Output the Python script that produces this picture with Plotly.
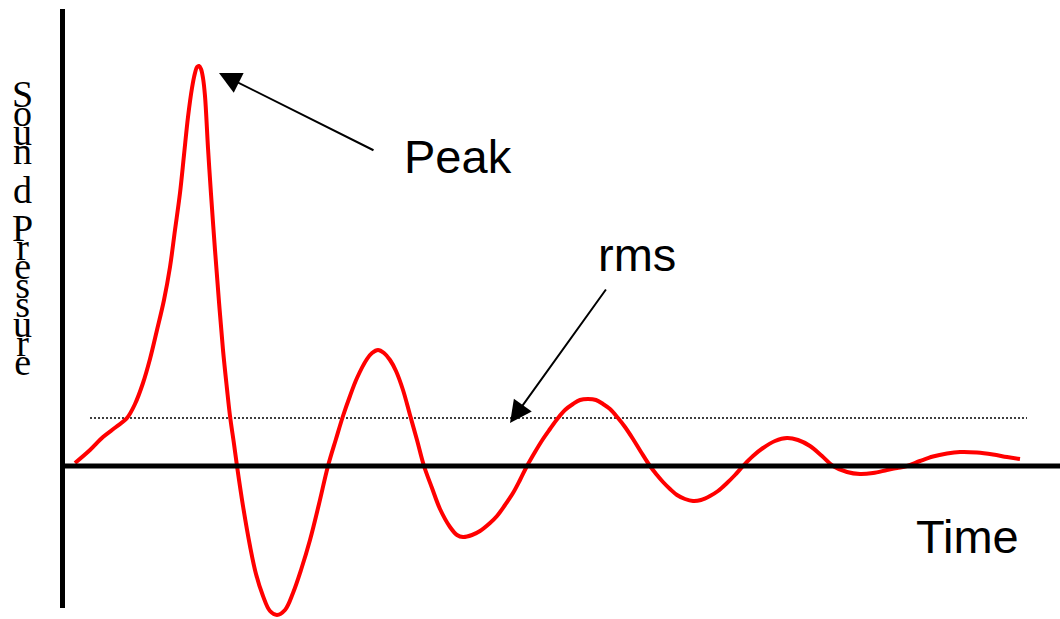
import plotly.graph_objects as go

# ---- data (x = time, y = sound pressure) ----
time_vals = [75, 90, 103, 116, 127, 135, 143, 150, 157, 164, 170, 175, 180, 184, 188, 192,
             195, 197, 199, 201, 203, 205, 208, 211, 215, 219, 223, 227, 230, 234, 237,
             243, 250, 256, 263, 270, 277, 285, 293, 301, 310, 319, 328,
             336, 343, 350, 357, 367, 372, 378, 384, 390, 396, 403, 410, 417, 424,
             432, 440, 450, 457, 463, 472, 480, 490, 497, 505, 513, 520, 527,
             535, 543, 550, 558, 565, 573, 580, 588, 596, 603, 610, 618, 625, 633, 641, 650,
             657, 663, 670, 677, 685, 693, 701, 710, 718, 727, 735, 743,
             753, 763, 775, 787, 798, 810, 822, 833,
             847, 860, 873, 887, 897, 907,
             920, 933, 947, 960, 977, 993, 1007, 1020]
pressure_vals = [3, 16, 29, 39, 48, 62, 83, 107, 136, 166, 199, 236, 273, 311, 349, 378,
                 393, 399, 400, 397, 388, 370, 318, 272, 216, 164, 116, 77, 50, 22, 0,
                 -40, -80, -108, -130, -145, -149, -144, -127, -104, -74, -38, 0,
                 27, 50, 70, 88, 107, 113, 116, 113, 106, 95, 76, 51, 26, 0,
                 -22, -43, -61, -69, -71, -69, -65, -57, -50, -39, -27, -14, 0,
                 14, 27, 37, 48, 56, 62, 66, 67, 66, 62, 57, 48, 39, 27, 14, 0,
                 -9, -16, -23, -29, -33, -35, -34, -30, -25, -17, -9, 0,
                 10, 18, 25, 28, 26, 20, 10, 0,
                 -6, -8, -7, -4, -2, 0,
                 5, 9.5, 12.5, 14, 13.5, 11.5, 9, 7]
rms_level = 48
rms_span = [90, 1027]

x_label = "Time"
y_label = "Sound Pressure"
peak_label = "Peak"
rms_label = "rms"

# ---- layout helpers (pixel-like coordinate frame) ----
W, H = 1060, 619
ZERO_PX = 466           # pixel row of the time axis
def py(v):               # pixel row -> data value
    return ZERO_PX - v

fig = go.Figure()

# rms dotted level
fig.add_trace(go.Scatter(x=rms_span, y=[rms_level, rms_level], mode="lines",
                         line=dict(color="black", width=1.5, dash="2px,2px"),
                         hoverinfo="skip", showlegend=False))

# pressure curve
fig.add_trace(go.Scatter(x=time_vals, y=pressure_vals, mode="lines",
                         line=dict(color="#ff0000", width=4, shape="spline", smoothing=1),
                         showlegend=False))

# axes drawn as thick black lines
fig.add_shape(type="line", x0=62.5, x1=62.5, y0=py(9), y1=py(608),
              line=dict(color="black", width=5), layer="below")
fig.add_shape(type="line", x0=60, x1=W, y0=0, y1=0,
              line=dict(color="black", width=5), layer="above")

annotations = []
# arrows
arrow_style = dict(axref="x", ayref="y", xref="x", yref="y", text="", showarrow=True,
                   arrowhead=2, arrowsize=2.2, arrowwidth=2, arrowcolor="black", standoff=0)
annotations.append(dict(x=219, y=py(73), ax=375, ay=py(151), **arrow_style))
annotations.append(dict(x=510, y=py(423), ax=607, ay=py(288), **arrow_style))

# texts
sans = dict(family="Liberation Sans, Arial, sans-serif", size=47, color="black")
annotations.append(dict(x=458, y=py(156), xref="x", yref="y", text=peak_label,
                        showarrow=False, font=sans))
annotations.append(dict(x=637, y=py(254), xref="x", yref="y", text=rms_label,
                        showarrow=False, font=sans))
annotations.append(dict(x=967, y=py(536), xref="x", yref="y", text=x_label,
                        showarrow=False, font=sans))

# vertical stacked y label: one glyph per line, big glyphs on tight line spacing
lines = []
for ch in y_label:
    if ch == " ":
        lines.append("")
    else:
        if ch == "d":
            lines.append("")
        lines.append('<span style="font-size:38px">%s</span>' % ch)
stacked = "<br>".join(lines)
annotations.append(dict(x=22.5, y=py(70.5), xref="x", yref="y", text=stacked,
                        showarrow=False, xanchor="center", yanchor="top", align="center",
                        font=dict(family="Liberation Serif, Times New Roman, serif",
                                  size=14.72, color="black")))

fig.update_layout(
    width=W, height=H,
    margin=dict(l=0, r=0, t=0, b=0),
    paper_bgcolor="white", plot_bgcolor="white",
    xaxis=dict(range=[0, W], visible=False, fixedrange=True),
    yaxis=dict(range=[ZERO_PX - H, ZERO_PX], visible=False, fixedrange=True),
    annotations=annotations,
    showlegend=False,
)

fig.write_html("out.html", config={"displayModeBar": False},
               post_script="document.body.style.margin='0';")
